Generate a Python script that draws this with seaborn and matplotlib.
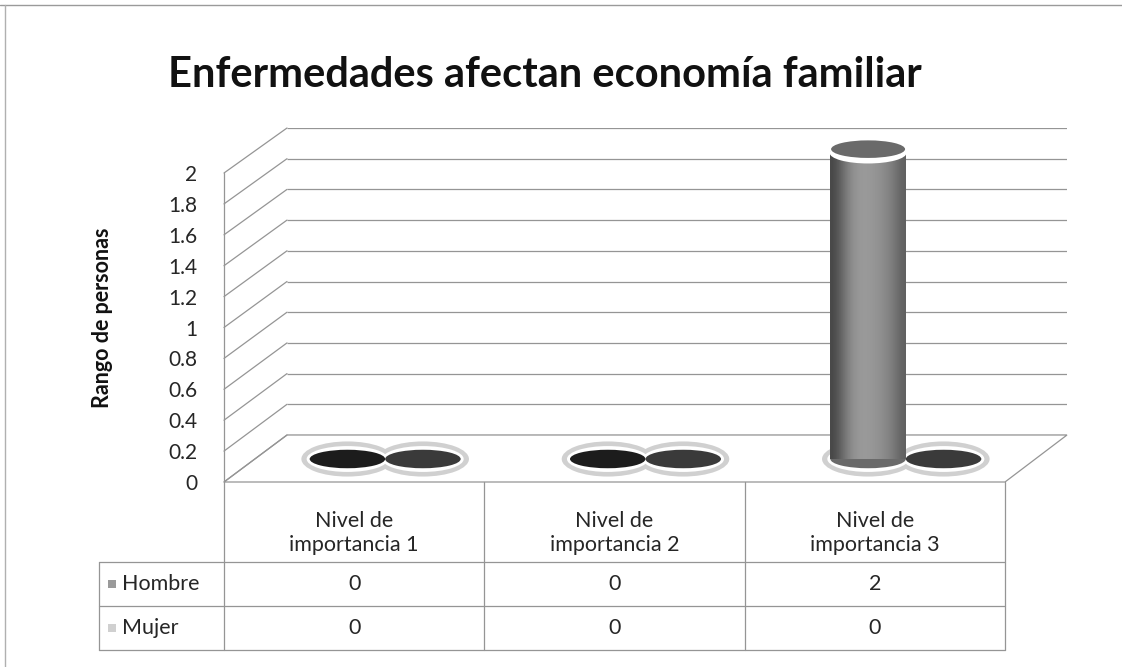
import numpy as np
import pandas as pd
import matplotlib
matplotlib.use("Agg")
import matplotlib.pyplot as plt
import seaborn as sns
from matplotlib.patches import Ellipse, Polygon, Rectangle

# datos del grafico
categorias = ["Nivel de\nimportancia 1", "Nivel de\nimportancia 2", "Nivel de\nimportancia 3"]
series = ["Hombre", "Mujer"]
hombre = [0, 0, 2]
mujer = [0, 0, 0]
yticks = [0, 0.2, 0.4, 0.6, 0.8, 1, 1.2, 1.4, 1.6, 1.8, 2]
titulo = "Enfermedades afectan economía familiar"
ylabel = "Rango de personas"

W, H = 1122, 667
GRID = "#959595"
TXT = "#262626"


def box(x0, y0, x1, y1):
    # caja en pixeles (origen arriba-izq) -> fraccion de figura
    return [x0 / W, 1 - y1 / H, (x1 - x0) / W, (y1 - y0) / H]


def to_bg(ax, x, y):
    p = ax.transData.transform((x, y))
    return bg.transData.inverted().transform(p)


def ell(ax, xy, w, h, color, z):
    e = Ellipse(xy, w, h, color=color, lw=0, zorder=z, clip_on=False)
    ax.add_patch(e)


def main():
    global bg
    sns.set_style("white")
    plt.rcParams["font.family"] = ["Lato", "DejaVu Sans"]

    df = pd.DataFrame({
        "categoria": categorias * 2,
        "serie": [series[0]] * 3 + [series[1]] * 3,
        "valor": hombre + mujer,
    })

    fig = plt.figure(figsize=(W / 100, H / 100), dpi=100)

    bg = fig.add_axes([0, 0, 1, 1], zorder=0)
    bg.set_xlim(0, W)
    bg.set_ylim(H, 0)
    bg.axis("off")

    ax_back = fig.add_axes(box(287, 128, 1067, 435), zorder=1)
    ax_front = fig.add_axes(box(224, 173, 1005, 482), zorder=1)
    ax_bar = fig.add_axes(box(255, 151, 1036, 459), zorder=3)
    for ax in (ax_back, ax_front, ax_bar):
        ax.set_xlim(-0.5, len(categorias) - 0.5)
        ax.set_ylim(0, 2)
        ax.patch.set_visible(False)
        for s in ax.spines.values():
            s.set_visible(False)

    # pared del fondo
    ax_back.hlines(yticks, -0.5, len(categorias) - 0.5, color=GRID, lw=0.9)
    ax_back.set_xticks([])
    ax_back.set_yticks([])

    # eje y (frente)
    ax_front.set_xticks([])
    ax_front.set_yticks(yticks)
    ax_front.set_yticklabels([f"{v:g}" for v in yticks], fontsize=15, color=TXT)
    ax_front.tick_params(axis="y", length=0, pad=19)

    # pared izquierda y suelo
    x_l, x_r = -0.5, len(categorias) - 0.5
    for v in yticks:
        a = to_bg(ax_front, x_l, v)
        b = to_bg(ax_back, x_l, v)
        bg.plot([a[0], b[0]], [a[1], b[1]], color=GRID, lw=0.9)
    a = to_bg(ax_front, x_l, 0)
    b = to_bg(ax_front, x_l, 2)
    bg.plot([a[0], b[0]], [a[1], b[1]], color=GRID, lw=0.9)
    floor = [to_bg(ax_front, x_l, 0), to_bg(ax_front, x_r, 0),
             to_bg(ax_back, x_r, 0), to_bg(ax_back, x_l, 0)]
    bg.add_patch(Polygon(floor, closed=True, facecolor="white", edgecolor=GRID, lw=0.9))

    # barras (cilindros)
    sns.barplot(data=df, x="categoria", y="valor", hue="serie", hue_order=series,
                palette=["#8c8c8c", "#bdbdbd"], width=0.58, legend=False, ax=ax_bar)
    ax_bar.axis("off")
    eh = 0.12
    oscuros = {"Hombre": "#1c1c1c", "Mujer": "#3a3a3a"}
    grad = np.array([[0.28, 0.42, 0.55, 0.60, 0.60, 0.58, 0.54, 0.48, 0.38]])
    for serie, cont in zip(series, ax_bar.containers):
        for p in cont:
            x0, w, h = p.get_x(), p.get_width(), p.get_height()
            cx = x0 + w / 2
            p.set_visible(False)
            ell(ax_bar, (cx, 0), w * 1.22, eh * 1.9, "#d0d0d0", 1)
            ell(ax_bar, (cx, 0), w * 1.08, eh * 1.4, "white", 1.5)
            if h == 0:
                ell(ax_bar, (cx, 0), w, eh, oscuros[serie], 2)
            else:
                ell(ax_bar, (cx, 0), w, eh, "#6a6a6a", 2)
                ax_bar.imshow(grad, cmap="gray", vmin=0, vmax=1, aspect="auto",
                              extent=(x0, x0 + w, 0, h), zorder=3, interpolation="bicubic")
                ell(ax_bar, (cx, h - 0.012), w * 1.02, eh * 1.15, "white", 4)
                ell(ax_bar, (cx, h + 0.012), w * 0.98, eh * 0.95, "#6a6a6a", 5)
    ax_bar.set_xlim(-0.5, len(categorias) - 0.5)
    ax_bar.set_ylim(0, 2)

    # tabla de datos
    xs = [to_bg(ax_front, x, 0)[0] for x in np.arange(len(categorias) + 1) - 0.5]
    y_top, y_h, y_m, y_bot = 482, 562, 606, 650
    x_leg = 99
    for x in xs:
        bg.plot([x, x], [y_top, y_bot], color=GRID, lw=0.9)
    bg.plot([x_leg, x_leg], [y_h, y_bot], color=GRID, lw=0.9)
    for y in (y_h, y_m, y_bot):
        bg.plot([x_leg, xs[-1]], [y, y], color=GRID, lw=0.9)
    for i, cat in enumerate(categorias):
        cx = (xs[i] + xs[i + 1]) / 2
        bg.text(cx, 533, cat, ha="center", va="center", fontsize=15.5, color=TXT, linespacing=1.2)
        bg.text(cx, (y_h + y_m) / 2, f"{hombre[i]:g}", ha="center", va="center", fontsize=15.5, color=TXT)
        bg.text(cx, (y_m + y_bot) / 2, f"{mujer[i]:g}", ha="center", va="center", fontsize=15.5, color=TXT)
    for serie, col, (ya, yb) in zip(series, ["#9a9a9a", "#d0d0d0"], [(y_h, y_m), (y_m, y_bot)]):
        yc = (ya + yb) / 2
        bg.add_patch(Rectangle((108, yc - 4), 8, 8, color=col, lw=0))
        bg.text(122, yc, serie, ha="left", va="center", fontsize=15.5, color=TXT)

    # titulo, etiqueta y borde
    bg.text(545, 75, titulo, ha="center", va="center", fontsize=30, fontweight="bold", color="#111")
    bg.text(103, 318, ylabel, ha="center", va="center", rotation=90, fontsize=15.5,
            fontweight="bold", color="#111")
    bg.plot([0, W], [5, 5], color="#9a9a9a", lw=1)
    bg.plot([5, 5], [5, H], color="#b0b0b0", lw=1)

    fig.savefig("out.png", dpi=100)


if __name__ == "__main__":
    main()
